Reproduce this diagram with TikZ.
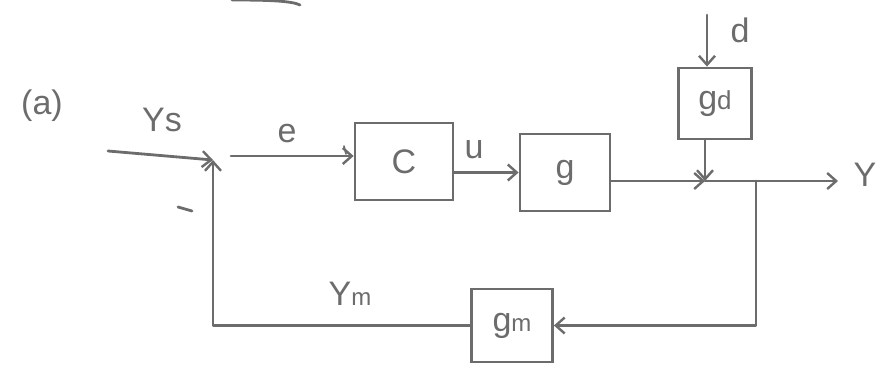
\documentclass[tikz,border=0pt]{standalone}
\usepackage{fontspec}
\setmainfont{Liberation Sans}
\usetikzlibrary{arrows.meta}
\definecolor{pen}{RGB}{108,108,108}
\tikzset{
  x=1pt, y=-1pt,
  wire/.style={draw=pen, line width=2.8pt, line cap=round, line join=round},
  flow/.style={wire, -{Straight Barb[length=9pt,width=16pt,line width=2.4pt]}},
  block/.style={draw=pen, line width=2.8pt, rectangle, inner sep=0pt, text=pen, font=\fontsize{34}{36}\selectfont},
  lbl/.style={text=pen, inner sep=0pt, font=\fontsize{34}{36}\selectfont}
}
\begin{document}
\begin{tikzpicture}
\useasboundingbox (0,0) rectangle (881,367);

% blocks
\node[block, minimum width=98pt, minimum height=77pt] (C)  at (404,161.5) {C};
\node[block, minimum width=90pt, minimum height=77pt] (g)  at (565,172.5) {g};
\node[block, minimum width=73pt, minimum height=71pt] (gd) at (715,103.5) {g\fontsize{26}{28}\selectfont d};
\node[block, minimum width=81pt, minimum height=73pt] (gm) at (512,325.5) {g\fontsize{24}{26}\selectfont m};

% signal points
\coordinate (in)   at (108,151);
\coordinate (sum)  at (213,160);
\coordinate (es)   at (231,156);
\coordinate (dtop) at (707,15);
\coordinate (J)    at (705,181);
\coordinate (B)    at (756,181);
\coordinate (out)  at (838,181);

% forward path
\draw[flow] (in) -- (sum);
\draw[flow] (es) -- (C.west |- es);
\draw[flow] (C.east |- g.west) -- (g.west);
\draw[flow] (g.east |- J) -- (J);
\draw[flow] (J) -- (out);

% disturbance path
\draw[flow] (dtop) -- (dtop |- gd.north);
\draw[flow] (J |- gd.south) -- (J);

% measurement feedback
\draw[flow] (B) |- (gm.east);
\draw[flow] (gm.west) -| (sum);

% labels
\node[lbl] (la)  at (42,106)  {(a)};
\node[lbl] (lys) at (162,120) {Ys};
\node[lbl] (le)  at (287,134) {e};
\node[lbl] (lu)  at (474,150) {u};
\node[lbl] (ld)  at (740,30)  {d};
\node[lbl] (ly)  at (865,175) {Y};
\node[lbl] (lym) at (350,294) {Y\fontsize{24}{26}\selectfont m};
\draw[wire] (178,207) -- (192,211);

% small pen marks
\draw[wire, line width=1.6pt] (344,146) -- (346,154);
\draw[wire] (232,0) .. controls (270,0) and (292,1) .. (300,5);
\end{tikzpicture}
\end{document}
